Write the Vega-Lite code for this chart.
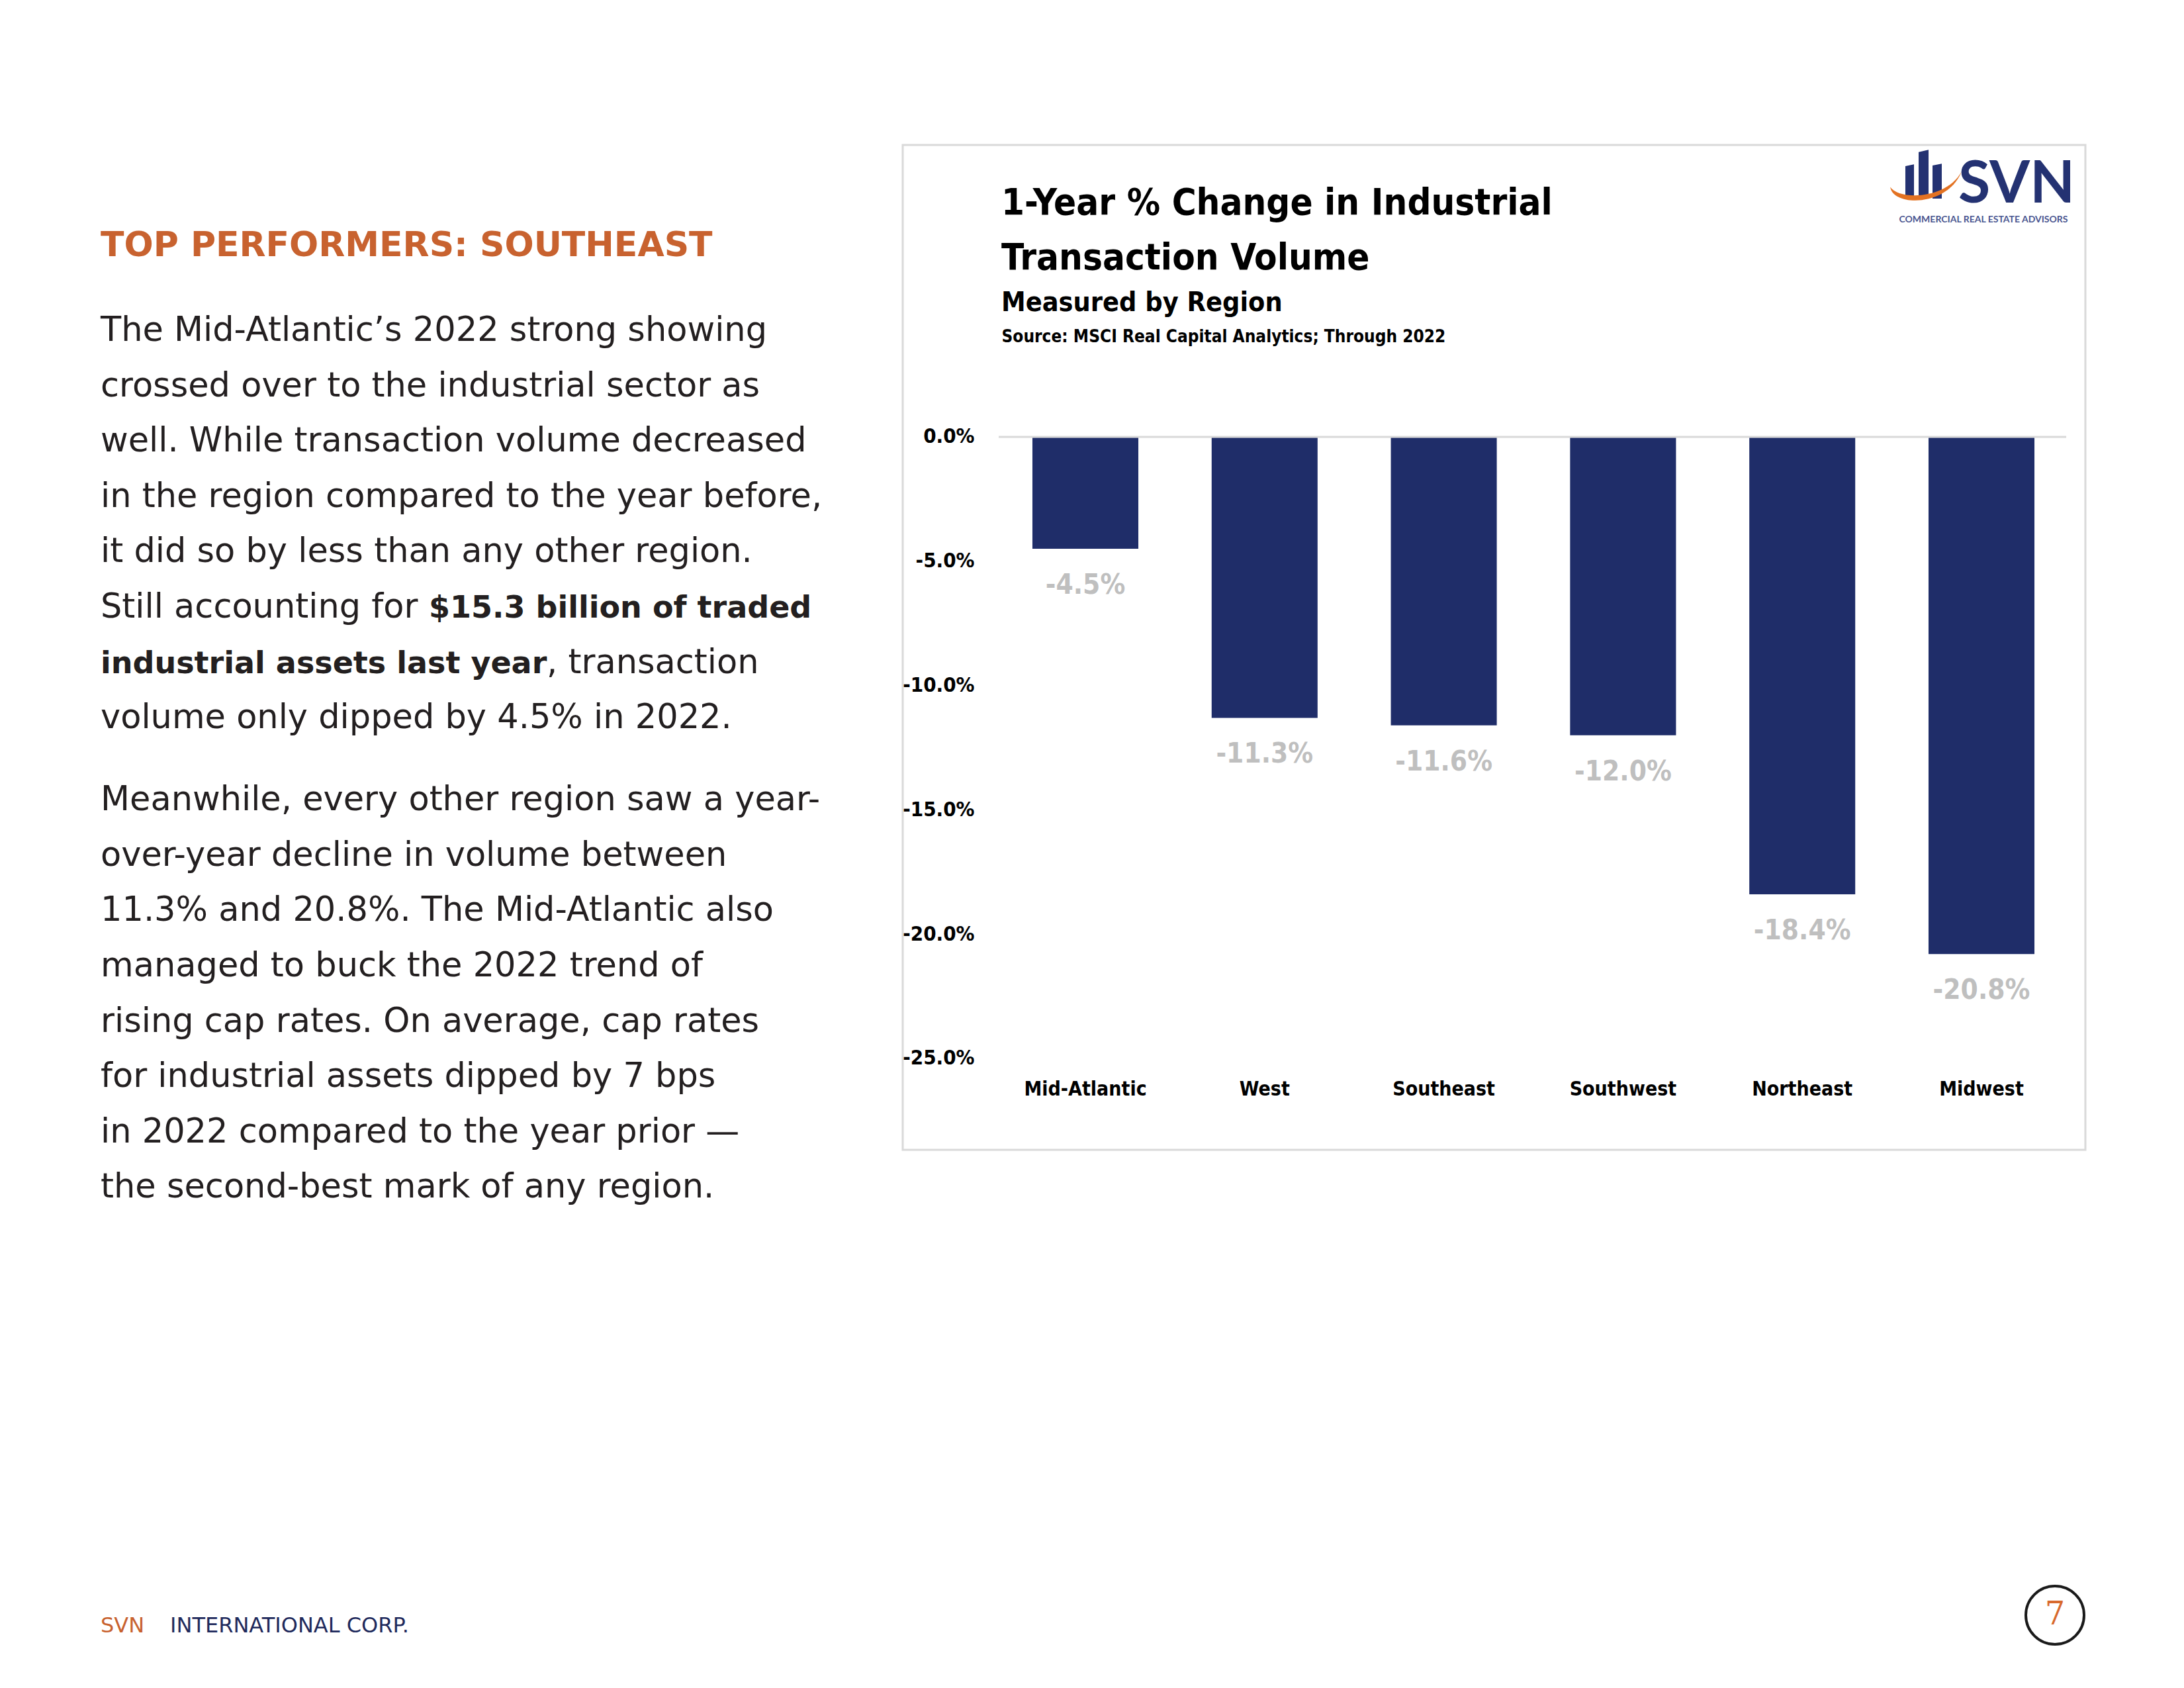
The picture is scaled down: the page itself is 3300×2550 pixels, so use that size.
{
  "$schema": "https://vega.github.io/schema/vega-lite/v6.json",
  "padding": {"left": 152, "top": 217, "right": 0, "bottom": 0},
  "background": "#ffffff",
  "config": {
    "view": {"stroke": null},
    "locale": {"number": {"decimal": ".", "thousands": ",", "grouping": [3], "currency": ["$", ""], "minus": "-"}}
  },
  "spacing": 536,
  "vconcat": [
    {
      "spacing": 60,
      "hconcat": [
        {
          "spacing": 40.2,
          "vconcat": [
            {
              "width": 1150,
              "height": 214,
              "data": {"values": [{"row": "heading", "text": "TOP PERFORMERS: SOUTHEAST"}]},
              "mark": {"type": "text", "align": "left", "baseline": "alphabetic", "font": "DejaVu Sans", "fontWeight": "bold", "fontSize": 52, "color": "#c8622f"},
              "encoding": {
                "x": {"datum": 0, "type": "quantitative", "scale": {"domain": [0, 1]}, "axis": null},
                "y": {"field": "row", "type": "nominal", "scale": {"type": "point", "padding": 0, "align": 0.785}, "axis": null},
                "text": {"field": "text"}
              }
            },
            {
              "width": 1150,
              "height": 668.8,
              "layer": [
                {
                  "data": {"values": [
                    {"line": 1, "text": "The Mid-Atlantic’s 2022 strong showing"},
                    {"line": 2, "text": "crossed over to the industrial sector as"},
                    {"line": 3, "text": "well. While transaction volume decreased"},
                    {"line": 4, "text": "in the region compared to the year before,"},
                    {"line": 5, "text": "it did so by less than any other region."},
                    {"line": 6, "text": "Still accounting for"},
                    {"line": 8, "text": "volume only dipped by 4.5% in 2022."}
                  ]},
                  "mark": {"type": "text", "align": "left", "baseline": "alphabetic", "font": "DejaVu Sans", "fontSize": 51, "color": "#231f20"},
                  "encoding": {
                    "x": {"datum": 0, "type": "quantitative", "scale": {"domain": [0, 1]}, "axis": null},
                    "y": {"field": "line", "type": "ordinal", "scale": {"type": "band", "domain": [1, 2, 3, 4, 5, 6, 7, 8], "paddingInner": 0, "paddingOuter": 0}, "axis": null},
                    "text": {"field": "text"}
                  }
                },
                {
                  "data": {"values": [{"line": 6, "text": "$15.3 billion of traded"}]},
                  "mark": {"type": "text", "align": "left", "baseline": "alphabetic", "font": "DejaVu Sans", "fontWeight": "bold", "fontSize": 46, "color": "#231f20", "dx": 496},
                  "encoding": {
                    "x": {"datum": 0, "type": "quantitative"},
                    "y": {"field": "line", "type": "ordinal"},
                    "text": {"field": "text"}
                  }
                },
                {
                  "data": {"values": [{"line": 7, "text": "industrial assets last year"}]},
                  "mark": {"type": "text", "align": "left", "baseline": "alphabetic", "font": "DejaVu Sans", "fontWeight": "bold", "fontSize": 46, "color": "#231f20"},
                  "encoding": {
                    "x": {"datum": 0, "type": "quantitative"},
                    "y": {"field": "line", "type": "ordinal"},
                    "text": {"field": "text"}
                  }
                },
                {
                  "data": {"values": [{"line": 7, "text": ", transaction"}]},
                  "mark": {"type": "text", "align": "left", "baseline": "alphabetic", "font": "DejaVu Sans", "fontSize": 51, "color": "#231f20", "dx": 674},
                  "encoding": {
                    "x": {"datum": 0, "type": "quantitative"},
                    "y": {"field": "line", "type": "ordinal"},
                    "text": {"field": "text"}
                  }
                }
              ]
            },
            {
              "width": 1150,
              "height": 668.8,
              "data": {"values": [
                {"line": 1, "text": "Meanwhile, every other region saw a year-"},
                {"line": 2, "text": "over-year decline in volume between"},
                {"line": 3, "text": "11.3% and 20.8%. The Mid-Atlantic also"},
                {"line": 4, "text": "managed to buck the 2022 trend of"},
                {"line": 5, "text": "rising cap rates. On average, cap rates"},
                {"line": 6, "text": "for industrial assets dipped by 7 bps"},
                {"line": 7, "text": "in 2022 compared to the year prior —"},
                {"line": 8, "text": "the second-best mark of any region."}
              ]},
              "mark": {"type": "text", "align": "left", "baseline": "alphabetic", "font": "DejaVu Sans", "fontSize": 51, "color": "#231f20"},
              "encoding": {
                "x": {"datum": 0, "type": "quantitative", "scale": {"domain": [0, 1]}, "axis": null},
                "y": {"field": "line", "type": "ordinal", "scale": {"type": "band", "paddingInner": 0, "paddingOuter": 0}, "axis": null},
                "text": {"field": "text"}
              }
            }
          ]
        },
        {
          "width": 1787,
          "height": 1518,
          "view": {"stroke": "#d9d9d9", "strokeWidth": 3},
          "title": {
            "text": ["1-Year % Change in Industrial", "Transaction Volume"],
            "subtitle": "Measured by Region",
            "anchor": "start",
            "frame": "group",
            "orient": "top",
            "offset": -260,
            "dx": 149,
            "font": "DejaVu Sans Condensed, Roboto Condensed, Roboto, sans-serif",
            "fontWeight": "bold",
            "fontSize": 56,
            "lineHeight": 83,
            "color": "#000000",
            "subtitleFont": "DejaVu Sans Condensed, Roboto Condensed, Roboto, sans-serif",
            "subtitleFontWeight": "bold",
            "subtitleFontSize": 41,
            "subtitleColor": "#000000",
            "subtitlePadding": 19
          },
          "data": {"values": [
            {"region": "Mid-Atlantic", "change": -0.045},
            {"region": "West", "change": -0.113},
            {"region": "Southeast", "change": -0.116},
            {"region": "Southwest", "change": -0.120},
            {"region": "Northeast", "change": -0.184},
            {"region": "Midwest", "change": -0.208}
          ]},
          "layer": [
            {
              "mark": {"type": "bar", "color": "#1f2d69"},
              "encoding": {
                "x": {
                  "field": "region", "type": "nominal", "sort": null,
                  "scale": {"domain": ["Mid-Atlantic", "West", "Southeast", "Southwest", "Northeast", "Midwest"], "paddingInner": 0.409, "paddingOuter": 0.504, "align": 0.718},
                  "axis": {"orient": "bottom", "offset": -92, "title": null, "domain": false, "ticks": false, "grid": false, "labelAngle": 0, "labelPadding": 0, "labelBaseline": "middle", "labelLimit": 600, "labelFont": "DejaVu Sans Condensed, Roboto Condensed, Roboto, sans-serif", "labelFontWeight": "bold", "labelFontSize": 30, "labelColor": "#000000"}
                },
                "y": {
                  "field": "change", "type": "quantitative",
                  "scale": {"domain": [-0.28675, 0.1174], "nice": false, "zero": false},
                  "axis": {"orient": "left", "offset": -118, "values": [0, -0.05, -0.1, -0.15, -0.2, -0.25], "format": ".1%", "domain": false, "ticks": false, "grid": false, "labelPadding": 10, "labelFont": "DejaVu Sans Condensed, Roboto Condensed, Roboto, sans-serif", "labelFontWeight": "bold", "labelFontSize": 31, "labelColor": "#000000",
                    "title": "Source: MSCI Real Capital Analytics; Through 2022", "titleAngle": 0, "titleAlign": "left", "titleBaseline": "alphabetic", "titleX": 31, "titleY": 297, "titleFont": "DejaVu Sans Condensed, Roboto Condensed, Roboto, sans-serif", "titleFontWeight": "bold", "titleFontSize": 26, "titleColor": "#000000", "titleLimit": 1200}
                },
                "y2": {"datum": 0}
              }
            },
            {
              "data": {"values": [{"from": "Mid-Atlantic", "to": "Midwest"}]},
              "mark": {"type": "rule", "color": "#d9d9d9", "strokeWidth": 3, "xOffset": -51, "x2Offset": 48},
              "encoding": {
                "x": {"field": "from", "type": "nominal", "bandPosition": 0},
                "x2": {"field": "to", "bandPosition": 1},
                "y": {"datum": 0, "type": "quantitative"}
              }
            },
            {
              "mark": {"type": "text", "baseline": "alphabetic", "align": "center", "dy": 68, "font": "DejaVu Sans Condensed, Roboto Condensed, Roboto, sans-serif", "fontWeight": "bold", "fontSize": 42, "color": "#bfbfbf"},
              "encoding": {
                "x": {"field": "region", "type": "nominal"},
                "y": {"field": "change", "type": "quantitative"},
                "text": {"field": "change", "type": "quantitative", "format": ".1%"}
              }
            },
            {
              "data": {"values": [{"logo": "icon"}]},
              "mark": {"type": "point", "filled": true, "color": "#243272", "opacity": 1, "strokeWidth": 0, "size": 12100, "xOffset": -84,
                "shape": "M -0.564 -0.273 L -0.327 -0.32 L -0.327 0.618 L -0.564 0.618 Z M -0.2 -0.66 L 0.073 -0.72 L 0.073 0.618 L -0.2 0.618 Z M 0.182 -0.291 L 0.436 -0.34 L 0.436 0.618 L 0.182 0.618 Z"},
              "encoding": {
                "x": {"datum": "Midwest", "type": "nominal"},
                "y": {"datum": 0.1049, "type": "quantitative"}
              }
            },
            {
              "data": {"values": [{"logo": "swoosh"}]},
              "mark": {"type": "point", "filled": true, "color": "#e37222", "opacity": 1, "strokeWidth": 0, "size": 12100, "xOffset": -84,
                "shape": "M -0.98 0.3 C -0.9 0.85 0.6 0.85 0.98 -0.12 C 0.55 0.66 -0.75 0.66 -0.98 0.3 Z"},
              "encoding": {
                "x": {"datum": "Midwest", "type": "nominal"},
                "y": {"datum": 0.1049, "type": "quantitative"}
              }
            },
            {
              "data": {"values": [{"logo": "SVN"}]},
              "mark": {"type": "text", "baseline": "alphabetic", "align": "center", "dx": 53, "font": "Lato", "fontWeight": "bold", "fontSize": 88, "color": "#243272"},
              "encoding": {
                "x": {"datum": "Midwest", "type": "nominal"},
                "y": {"datum": 0.0942, "type": "quantitative"},
                "text": {"field": "logo"}
              }
            },
            {
              "data": {"values": [{"logo": "COMMERCIAL REAL ESTATE ADVISORS"}]},
              "mark": {"type": "text", "baseline": "alphabetic", "align": "center", "dx": 3, "font": "Lato", "fontWeight": "bold", "fontSize": 14, "color": "#4a5690"},
              "encoding": {
                "x": {"datum": "Midwest", "type": "nominal"},
                "y": {"datum": 0.0862, "type": "quantitative"},
                "text": {"field": "logo"}
              }
            }
          ]
        }
      ]
    },
    {
      "width": 2953,
      "height": 100,
      "data": {"values": [
        {"part": "brand", "text": "SVN"},
        {"part": "name", "text": "INTERNATIONAL CORP."},
        {"part": "page", "text": "7"}
      ]},
      "layer": [
        {
          "transform": [{"filter": "datum.part === 'brand'"}],
          "mark": {"type": "text", "align": "left", "baseline": "middle", "font": "DejaVu Sans", "fontSize": 32, "color": "#c8622f"},
          "encoding": {
            "x": {"datum": 0, "type": "quantitative", "scale": {"domain": [0, 1]}, "axis": null},
            "text": {"field": "text"}
          }
        },
        {
          "transform": [{"filter": "datum.part === 'name'"}],
          "mark": {"type": "text", "align": "left", "baseline": "middle", "font": "DejaVu Sans", "fontSize": 32, "color": "#1f2a5c", "dx": 105},
          "encoding": {
            "x": {"datum": 0, "type": "quantitative"},
            "text": {"field": "text"}
          }
        },
        {
          "transform": [{"filter": "datum.part === 'page'"}],
          "mark": {"type": "point", "shape": "circle", "size": 7744, "filled": false, "stroke": "#1a1a1a", "strokeWidth": 4, "opacity": 1, "yOffset": -16},
          "encoding": {
            "x": {"datum": 1, "type": "quantitative"}
          }
        },
        {
          "transform": [{"filter": "datum.part === 'page'"}],
          "mark": {"type": "text", "align": "center", "baseline": "middle", "font": "DejaVu Serif", "fontSize": 48, "color": "#d8692c", "yOffset": -16},
          "encoding": {
            "x": {"datum": 1, "type": "quantitative"},
            "text": {"field": "text"}
          }
        }
      ]
    }
  ]
}
